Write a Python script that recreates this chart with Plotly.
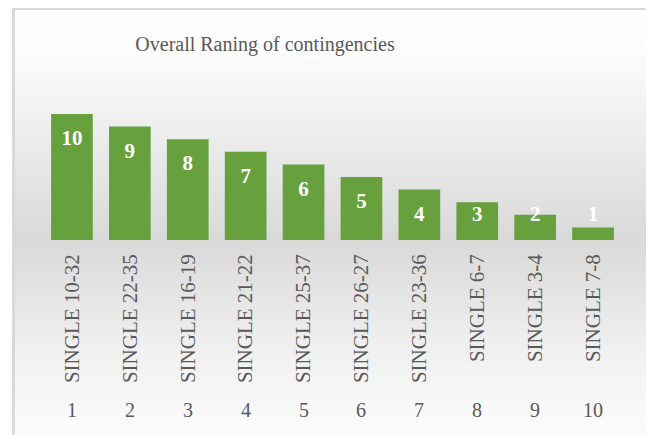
import base64
import plotly.graph_objects as go

# ---- data ----
ranks = ["1", "2", "3", "4", "5", "6", "7", "8", "9", "10"]
contingencies = ["SINGLE 10-32", "SINGLE 22-35", "SINGLE 16-19", "SINGLE 21-22",
                 "SINGLE 25-37", "SINGLE 26-27", "SINGLE 23-36", "SINGLE 6-7",
                 "SINGLE 3-4", "SINGLE 7-8"]
scores = [10, 9, 8, 7, 6, 5, 4, 3, 2, 1]
title_text = "Overall Raning of contingencies"

# page body has an 8px margin; compensate so the visible picture lines up
OFF = 8
W, H = 654 - OFF, 435 - OFF
ML, MR, MT, MB = 43 - OFF, 32, 114 - OFF, 195
plot_w = W - ML - MR
plot_h = H - MT - MB

FONT = "Liberation Serif, Times New Roman, serif"
GREY = "#595959"
BAR = "#67a13e"

svg = '''<svg xmlns="http://www.w3.org/2000/svg" width="640" height="428" viewBox="0 0 640 428" preserveAspectRatio="none">
<defs><linearGradient id="g" x1="0" y1="0" x2="0" y2="1">
<stop offset="0" stop-color="#ffffff"/>
<stop offset="0.12" stop-color="#fbfbfb"/>
<stop offset="0.544" stop-color="#d9d9d9"/>
<stop offset="0.8" stop-color="#f0f0f0"/>
<stop offset="1" stop-color="#fcfcfc"/>
</linearGradient></defs>
<rect x="0" y="0" width="640" height="428" fill="url(#g)"/>
<rect x="1.5" y="1.5" width="637" height="440" fill="none" stroke="#d9d9d9" stroke-width="3"/>
</svg>'''
src = "data:image/svg+xml;base64," + base64.b64encode(svg.encode()).decode()

# image placement in paper coords (reference pixel box 12..652 x 7..435)
x0p = (12 - OFF - ML) / plot_w
x1p = (652 - OFF - ML) / plot_w
ytop = (H - MB - (7 - OFF)) / plot_h
ybot = (H - MB - H) / plot_h

fig = go.Figure()
fig.add_trace(go.Bar(
    x=ranks, y=scores, marker=dict(color=BAR, line=dict(width=0)),
    hoverinfo="skip", showlegend=False,
))
label_y = [max(v - 2.06, 1.9) for v in scores]
fig.add_trace(go.Scatter(
    x=ranks, y=label_y, mode="text", text=[str(v) for v in scores],
    textfont=dict(family=FONT, size=21, color="white", weight="bold"),
    textposition="middle center", hoverinfo="skip", showlegend=False,
    cliponaxis=False,
))

annotations = []
for i, r in enumerate(ranks):
    annotations.append(dict(
        x=i, xref="x", y=(H - MB - (410 - OFF)) / plot_h, yref="paper",
        text=r, showarrow=False, xanchor="center", yanchor="middle",
        font=dict(family=FONT, size=20, color=GREY),
    ))

fig.update_layout(
    width=W, height=H,
    margin=dict(l=ML, r=MR, t=MT, b=MB, pad=0, autoexpand=False),
    paper_bgcolor="white", plot_bgcolor="rgba(0,0,0,0)",
    bargap=0.28,
    title=dict(text=title_text, x=(265 - OFF) / W, xanchor="center", xref="container",
               y=1 - (44 - OFF) / H, yanchor="middle", yref="container",
               font=dict(family=FONT, size=20, color=GREY)),
    xaxis=dict(type="category", tickmode="array", tickvals=ranks,
               ticktext=contingencies, tickangle=-90, showgrid=False,
               showline=False, zeroline=False, ticks="",
               tickfont=dict(family=FONT, size=21, color=GREY),
               ticklabelstandoff=9, automargin=False),
    yaxis=dict(range=[0, 10], visible=False, showgrid=False, zeroline=False),
    images=[dict(source=src, xref="paper", yref="paper", x=x0p, y=ytop,
                 sizex=x1p - x0p, sizey=ytop - ybot, xanchor="left",
                 yanchor="top", sizing="stretch", layer="below")],
    annotations=annotations,
)

fig.write_html("out.html")
